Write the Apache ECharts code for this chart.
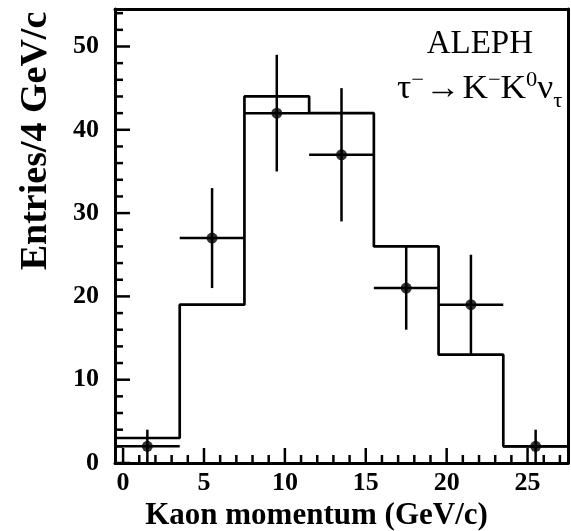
<!DOCTYPE html>
<html>
<head>
<meta charset="utf-8">
<script src="https://cdn.jsdelivr.net/npm/echarts@6/dist/echarts.min.js"></script>
<style>
html,body{margin:0;padding:0;background:#fff;}
#chart{width:571px;height:531px;}
</style>
</head>
<body>
<div id="chart"></div>
<script>
// Histogram bin edges (GeV/c) and Monte Carlo expectation per bin
var binEdges = [-0.5, 3.5, 7.5, 11.5, 15.5, 19.5, 23.5, 27.5];
var mcCounts = [3, 19, 44, 42, 26, 13, 2];
// Data points: bin centres, entries and error sizes
var dataX = [1.5, 5.5, 9.5, 13.5, 17.5, 21.5, 25.5];
var dataY = [2, 27, 42, 37, 21, 19, 2];
var errLow = [2, 6, 7, 8, 5, 6, 2];
var errHigh = [2, 6, 7, 8, 5, 6, 2];
var halfBin = 2;
// Tick values
var xTicks = [0, 5, 10, 15, 20, 25];
var xMinorTicks = [1,2,3,4,6,7,8,9,11,12,13,14,16,17,18,19,21,22,23,24,26,27];
var yTicks = [0, 10, 20, 30, 40, 50];
var yMinorTicks = [2,4,6,8,12,14,16,18,22,24,26,28,32,34,36,38,42,44,46,48,52,54];
var xMin = -0.5, xMax = 27.5, yMin = 0, yMax = 54.5;

var FONT = '"Liberation Serif", "Times New Roman", serif';

var histLine = [];
for (var i = 0; i < mcCounts.length; i++) histLine.push([binEdges[i], mcCounts[i]]);
histLine.push([binEdges[binEdges.length - 1], mcCounts[mcCounts.length - 1]]);

var points = dataX.map(function (x, i) { return [x, dataY[i]]; });
var errData = dataX.map(function (x, i) {
  return [x, dataY[i], dataY[i] - errLow[i], dataY[i] + errHigh[i]];
});
// tick marks: x ticks as [value, isMajor]; y ticks as [xMin, value, isMajor]
var xTickData = xTicks.map(function (v) { return [v, 1]; }).concat(xMinorTicks.map(function (v) { return [v, 0]; }));
var yTickData = yTicks.map(function (v) { return [xMin, v, 1]; }).concat(yMinorTicks.map(function (v) { return [xMin, v, 0]; }));

var MAJOR = 15, MINOR = 8;

var chart = echarts.init(document.getElementById('chart'));
chart.setOption({
  animation: false,
  backgroundColor: '#fff',
  grid: {left: 115, right: 3, top: 9, bottom: 68, outerBoundsMode: 'none'},
  xAxis: [
    {type: 'value', min: xMin, max: xMax, position: 'bottom', splitLine: {show: false},
      axisLine: {show: true, onZero: false, lineStyle: {color: '#000', width: 3}},
      axisTick: {show: false},
      axisLabel: {customValues: xTicks, margin: 7, fontSize: 26, fontWeight: 'bold', fontFamily: FONT, color: '#000'},
      name: 'Kaon momentum (GeV/c)', nameLocation: 'middle', nameGap: 20,
      nameTextStyle: {color: '#000', fontFamily: FONT, fontWeight: 'bold', fontSize: 31, padding: [0, 50, 0, 0]}},
    {type: 'value', min: xMin, max: xMax, position: 'top', splitLine: {show: false},
      axisLine: {show: true, onZero: false, lineStyle: {color: '#000', width: 3}},
      axisTick: {show: false}, axisLabel: {show: false}}
  ],
  yAxis: [
    {type: 'value', min: yMin, max: yMax, position: 'left', splitLine: {show: false},
      axisLine: {show: true, onZero: false, lineStyle: {color: '#000', width: 3}},
      axisTick: {show: false},
      axisLabel: {customValues: yTicks, margin: 16, fontSize: 26, fontWeight: 'bold', fontFamily: FONT, color: '#000'},
      name: 'Entries/4 GeV/c', nameLocation: 'middle', nameGap: 60,
      nameTextStyle: {color: '#000', fontFamily: FONT, fontWeight: 'bold', fontSize: 38, padding: [0, 0, 0, 190]}},
    {type: 'value', min: yMin, max: yMax, position: 'right', splitLine: {show: false},
      axisLine: {show: true, onZero: false, lineStyle: {color: '#000', width: 3}},
      axisTick: {show: false}, axisLabel: {show: false}}
  ],
  graphic: [
    {type: 'text', right: 38, top: 28, style: {text: 'ALEPH', fill: '#000', font: '33px ' + FONT}},
    {type: 'text', x: 397, y: 70, scaleX: 1.07, style: {
      text: '{m|τ}{sup|−}{a|→}{m|K}{sup|−}{m|K}{sup|0}{m|ν}{sub|τ}',
      fill: '#000',
      rich: {
        m: {fontFamily: FONT, fontSize: 33, lineHeight: 36, verticalAlign: 'bottom', fill: '#000'},
        a: {fontFamily: FONT, fontSize: 33, lineHeight: 36, verticalAlign: 'bottom', fill: '#000', padding: [0, 2, 0, 1]},
        sup: {fontFamily: FONT, fontSize: 21, lineHeight: 21, verticalAlign: 'top', fill: '#000'},
        sub: {fontFamily: FONT, fontSize: 21, lineHeight: 21, verticalAlign: 'bottom', fill: '#000', padding: [0, 0, -6, 0]}
      }
    }}
  ],
  series: [
    {type: 'line', data: histLine, step: 'end', symbol: 'none', lineStyle: {color: '#000', width: 2.7}, z: 3},
    {type: 'custom', data: errData, z: 4,
      renderItem: function (params, api) {
        var x = api.value(0), y = api.value(1), lo = api.value(2), hi = api.value(3);
        var pLo = api.coord([x, lo]), pHi = api.coord([x, hi]);
        var pL = api.coord([x - halfBin, y]), pR = api.coord([x + halfBin, y]);
        var st = {stroke: '#000', lineWidth: 2.5};
        return {type: 'group', children: [
          {type: 'line', shape: {x1: pLo[0], y1: pLo[1], x2: pHi[0], y2: pHi[1]}, style: st},
          {type: 'line', shape: {x1: pL[0], y1: pL[1], x2: pR[0], y2: pR[1]}, style: st}
        ]};
      }},
    {type: 'scatter', data: points, symbol: 'circle', symbolSize: 11, itemStyle: {color: '#000'}, z: 5},
    {type: 'custom', data: xTickData, z: 10,
      renderItem: function (params, api) {
        var p = api.coord([api.value(0), yMin]);
        var len = api.value(1) ? MAJOR : MINOR;
        return {type: 'line', shape: {x1: p[0], y1: p[1], x2: p[0], y2: p[1] - len}, style: {stroke: '#000', lineWidth: 2.5}};
      }},
    {type: 'custom', data: yTickData, z: 10,
      renderItem: function (params, api) {
        var p = api.coord([xMin, api.value(1)]);
        var len = api.value(2) ? MAJOR : MINOR;
        return {type: 'line', shape: {x1: p[0], y1: p[1], x2: p[0] + len, y2: p[1]}, style: {stroke: '#000', lineWidth: 2.5}};
      }}
  ]
});
</script>
</body>
</html>
